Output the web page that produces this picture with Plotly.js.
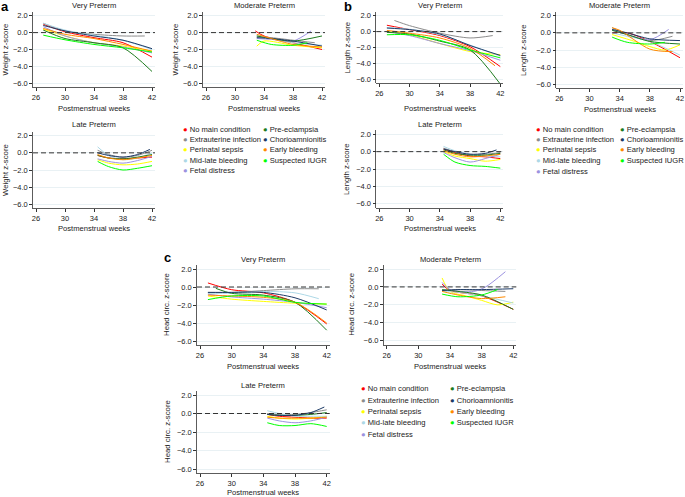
<!DOCTYPE html>
<html>
<head>
<meta charset="utf-8">
<script src="https://cdn.plot.ly/plotly-3.0.1.min.js"></script>
<style>
  html, body { margin: 0; padding: 0; background: #fff; }
  #chart { width: 685px; height: 497px; }
</style>
</head>
<body>
<div id="chart"></div>
<script>
// condition names and colours (same order in every panel)
const conditions = ['No main condition', 'Extrauterine infection', 'Perinatal sepsis',
  'Mid-late bleeding', 'Fetal distress', 'Pre-eclampsia', 'Chorioamnionitis',
  'Early bleeding', 'Suspected IUGR'];
const colors = ['#FF0000', '#8C8C8C', '#FFFF00', '#ADD8E6', '#9C92E0',
  '#1E7B1E', '#1C3A66', '#FF8A00', '#00FF00'];

const xTicks = [26, 30, 34, 38, 42];
const yTicks = [2, 0, -2, -4, -6];

// ---- a: weight ----
const weightVeryWeeks = [
  [27, 30, 34, 38, 42], [27, 30, 34, 38, 41], [27, 30, 34, 38, 42],
  [27, 30, 34, 38, 42], [27, 30, 34, 38, 42], [27, 30, 34, 38, 42],
  [27, 30, 34, 38, 42], [27, 30, 34, 38, 42], [27, 30, 34, 38, 42]];
const weightVeryZ = [
  [1.0, 0.1, -0.6, -1.2, -2.9], [1.1, 0.2, -0.2, -0.4, -0.4], [0.4, -0.4, -1.2, -1.6, -2.2],
  [1.1, 0.3, -0.3, -0.9, -2.0], [0.7, -0.4, -1.2, -1.7, -2.4], [0.3, -0.7, -1.2, -1.8, -4.6],
  [0.85, 0.2, -0.4, -0.9, -1.9], [0.5, -0.2, -0.7, -1.4, -2.2], [-0.3, -0.85, -1.4, -1.8, -2.3]];

const weightModWeeks = [
  [32.8, 34, 38, 42], [33, 35, 38, 41], [33, 34, 38, 42],
  [33, 35, 38, 42], [33, 35, 38, 40.5], [33, 35, 38, 42],
  [33, 35, 38, 42], [33, 35, 38, 42], [33, 35, 38, 40]];
const weightModZ = [
  [0.2, -0.4, -1.2, -2.0], [-0.5, -0.6, -0.9, -1.2], [-1.6, -1.0, -1.5, -1.8],
  [-0.3, -0.7, -1.2, -1.5], [-0.7, -0.8, -1.0, 0.2], [-0.4, -0.7, -1.0, -0.4],
  [-0.6, -0.7, -1.0, -1.6], [-0.2, -0.7, -1.4, -1.7], [-0.9, -1.4, -1.5, -1.2]];

const weightLateWeeks = [
  [34.5, 36, 38, 40, 42], [34.5, 36, 38, 40, 42], [34.5, 36, 38, 40, 42],
  [34.5, 36, 38, 40, 42], [34.5, 36, 38, 40, 42], [34.5, 36, 38, 40, 42],
  [34.5, 36, 38, 40, 41.7], [34.5, 36, 38, 40, 42], [34.5, 36, 38, 40, 42]];
const weightLateZ = [
  [-0.3, -0.6, -0.7, -0.6, -0.5], [0.3, -0.2, -0.5, -0.3, 0.3], [-0.8, -1.2, -1.4, -1.3, -1.0],
  [0.7, -0.3, -0.8, -0.6, 0.0], [-0.7, -1.0, -1.2, -0.9, -0.4], [-0.3, -0.6, -0.7, -0.5, -0.2],
  [0.0, -0.3, -0.5, -0.2, 0.4], [-0.2, -0.6, -0.8, -0.6, -0.3], [-1.0, -1.6, -2.0, -1.8, -1.5]];

// ---- b: length ----
const lengthVeryWeeks = [
  [27, 30, 34, 38, 42], [28, 30, 34, 38, 41], [27, 30, 34, 38, 42],
  [27, 30, 34, 38, 42], [27, 30, 34, 38, 42], [27, 30, 34, 38, 42],
  [27, 30, 34, 38, 42], [27, 30, 34, 38, 41.3], [27, 30, 34, 38, 42]];
const lengthVeryZ = [
  [0.8, 0.25, -0.5, -1.9, -4.4], [1.4, 0.75, -0.2, -0.8, -0.5], [0.0, -0.4, -1.5, -2.5, -2.9],
  [0.5, 0.3, -0.4, -1.7, -3.1], [0.0, -0.5, -1.5, -2.4, -3.6], [-0.1, -0.3, -1.2, -2.3, -6.6],
  [0.45, 0.25, -0.3, -1.75, -3.0], [0.15, -0.2, -0.8, -2.1, -4.3], [-0.4, -0.4, -1.1, -2.3, -3.3]];

const lengthModWeeks = [
  [33, 35, 38, 42], [33, 35, 38, 41], [33, 36, 38, 40, 42],
  [33, 35, 38, 42], [33, 35, 38, 40.5], [33, 35, 38, 42],
  [33, 35, 38, 42], [33, 34, 38, 41], [33, 35, 38, 40]];
const lengthModZ = [
  [0.0, 0.0, -1.0, -2.9], [0.6, -0.2, -0.9, -0.4], [-0.2, -1.0, -1.6, -2.0, -1.4],
  [0.0, -0.4, -1.0, -2.6], [0.3, -0.2, -0.8, 0.4], [0.3, -0.2, -1.0, -1.3],
  [0.4, 0.0, -0.7, -0.9], [0.6, 0.3, -1.9, -2.2], [-0.5, -1.1, -1.3, -1.1]];

const lengthLateWeeks = [
  [34.5, 36, 38, 40, 42], [34.5, 36, 38, 40, 42], [34.5, 36, 38, 40, 42],
  [34.5, 36, 38, 40, 42], [34.5, 36, 38, 40, 42], [34.5, 36, 38, 40, 42],
  [34.5, 36, 38, 40, 41.5], [34.5, 36, 38, 40, 42], [34.5, 36, 38, 40, 42]];
const lengthLateZ = [
  [0.3, -0.1, -0.5, -0.6, -0.8], [0.4, 0.0, -0.3, -0.3, -0.1], [0.0, -0.5, -0.8, -1.1, -0.9],
  [0.6, 0.1, -0.3, -0.5, -0.6], [-0.1, -0.7, -1.2, -0.8, -0.3], [0.2, -0.2, -0.4, -0.4, -0.2],
  [0.3, 0.0, -0.3, -0.2, 0.2], [0.1, -0.3, -0.6, -0.5, -0.3], [-0.3, -1.2, -1.6, -1.7, -1.9]];

// ---- c: head circumference ----
const headVeryWeeks = [
  [27, 30, 34, 38, 42], [27, 30, 34, 38, 41], [27, 30, 34, 38, 42],
  [27, 30, 34, 38, 41], [27, 30, 34, 38, 42], [28, 30, 34, 38, 42],
  [27, 30, 34, 38, 42], [27, 30, 34, 38, 42], [27, 30, 34, 38, 42]];
const headVeryZ = [
  [0.45, -0.3, -0.65, -1.7, -4.1], [-0.6, -0.6, -0.4, -0.2, -0.2], [-1.0, -1.35, -1.6, -1.8, -1.9],
  [-0.7, -0.7, -0.5, -0.65, -1.3], [-0.8, -1.1, -1.35, -1.7, -2.3], [-0.15, -0.7, -0.9, -1.7, -4.8],
  [-0.6, -0.6, -0.6, -1.2, -2.55], [-0.9, -1.0, -1.15, -1.7, -4.0], [-1.4, -1.0, -1.0, -1.7, -1.9]];

const headModWeeks = [
  [33, 34, 38, 42], [33, 35, 38, 41], [33, 34, 36, 38, 40, 42],
  [33, 35, 38, 42], [33, 34, 37, 38.5, 41], [33, 35, 38, 42],
  [33, 35, 38, 42], [33, 35, 38, 41], [33, 35, 38, 40]];
const headModZ = [
  [0.3, -0.4, -1.0, -2.5], [-0.4, -0.3, -0.4, -0.5], [1.0, -0.5, -1.0, -1.5, -2.0, -1.7],
  [-0.5, -0.6, -1.0, -1.8], [0.5, -0.3, -0.5, 0.0, 1.7], [-0.3, -0.5, -0.9, -2.5],
  [-0.4, -0.3, -0.3, -0.2], [-0.5, -0.9, -1.3, -1.1], [-0.8, -1.1, -0.9, -0.3]];

const headLateWeeks = [
  [34.5, 36, 38, 40, 42], [34.5, 36, 38, 40, 42], [34.5, 36, 38, 40, 42],
  [34.5, 36, 38, 40, 42], [34.5, 36, 38, 40, 42], [34.5, 36, 38, 40, 42],
  [34.5, 36, 38, 40, 41.7], [34.5, 36, 38, 40, 42], [34.5, 36, 38, 40, 42]];
const headLateZ = [
  [-0.1, -0.3, -0.4, -0.5, -0.5], [0.0, -0.1, -0.1, 0.1, 0.4], [-0.3, -0.5, -0.6, -0.5, -0.3],
  [0.3, 0.0, -0.3, -0.3, -0.3], [-0.5, -0.8, -1.0, -0.8, -0.4], [-0.1, -0.2, -0.2, -0.1, 0.1],
  [-0.1, -0.2, -0.2, 0.1, 0.7], [-0.4, -0.5, -0.5, -0.5, -0.4], [-1.0, -1.3, -1.3, -1.1, -1.4]];

// panel placement in pixels (tick 26 / tick 42 / tick 2.0 / tick -6.0)
const W = 685, H = 497;
const FONT = 'Liberation Sans, Arial, Helvetica, sans-serif';
const panels = [
  { weeks: weightVeryWeeks, z: weightVeryZ, title: 'Very Preterm', ylab: 'Weight z-score', x26: 36, x42: 152, y2: 15.7, y6: 83.3, ty: 6, xty: 108.7, ytx: 5 },
  { weeks: weightModWeeks, z: weightModZ, title: 'Moderate Preterm', ylab: 'Weight z-score', x26: 206, x42: 322, y2: 15.7, y6: 83.3, ty: 6, xty: 108.7, ytx: 175 },
  { weeks: weightLateWeeks, z: weightLateZ, title: 'Late Preterm', ylab: 'Weight z-score', x26: 36, x42: 152, y2: 135.7, y6: 204.3, ty: 125, xty: 228.3, ytx: 5 },
  { weeks: lengthVeryWeeks, z: lengthVeryZ, title: 'Very Preterm', ylab: 'Length z-score', x26: 379.3, x42: 500.3, y2: 15.7, y6: 79.3, ty: 6, xty: 108.7, ytx: 347 },
  { weeks: lengthModWeeks, z: lengthModZ, title: 'Moderate Preterm', ylab: 'Length z-score', x26: 559.3, x42: 680, y2: 15.7, y6: 84.3, ty: 6, xty: 109, ytx: 523 },
  { weeks: lengthLateWeeks, z: lengthLateZ, title: 'Late Preterm', ylab: 'Length z-score', x26: 379.3, x42: 500.3, y2: 134.3, y6: 203.7, ty: 125, xty: 228.3, ytx: 346 },
  { weeks: headVeryWeeks, z: headVeryZ, title: 'Very Preterm', ylab: 'Head circ. z-score', x26: 200, x42: 326.7, y2: 269, y6: 341, ty: 259.3, xty: 366.7, ytx: 166 },
  { weeks: headModWeeks, z: headModZ, title: 'Moderate Preterm', ylab: 'Head circ. z-score', x26: 386.7, x42: 513.3, y2: 269, y6: 340.7, ty: 259, xty: 366.7, ytx: 352 },
  { weeks: headLateWeeks, z: headLateZ, title: 'Late Preterm', ylab: 'Head circ. z-score', x26: 200, x42: 326.7, y2: 395, y6: 469, ty: 385, xty: 492.5, ytx: 167 }
];
const legends = [
  { cols: [184, 264], rows: [129, 139.3, 149.7, 160.3, 171] },
  { cols: [536.7, 621], rows: [129, 139.3, 149.7, 160.3, 171.7] },
  { cols: [361.7, 451], rows: [388.3, 400, 411.7, 422.7, 434] }
];

const px = v => v / W;
const py = v => 1 - v / H;

const traces = [];
const layout = {
  width: W, height: H,
  margin: { l: 0, r: 0, t: 0, b: 0 },
  paper_bgcolor: '#fff', plot_bgcolor: '#fff',
  showlegend: false,
  font: { family: FONT, size: 7.5, color: '#222' },
  annotations: [], shapes: []
};

panels.forEach((p, i) => {
  const n = i + 1;
  const sfx = n === 1 ? '' : String(n);
  const ppw = (p.x42 - p.x26) / 16;
  const ppu = (p.y6 - p.y2) / 8;
  layout['xaxis' + sfx] = {
    domain: [px(p.x26 - 3), px(p.x42 + 3)],
    range: [26 - 3 / ppw, 42 + 3 / ppw],
    anchor: 'y' + sfx,
    tickvals: xTicks, ticks: 'outside', ticklen: 3, tickcolor: '#333',
    showline: true, linecolor: '#333', linewidth: 0.8,
    showgrid: false, zeroline: false,
    tickfont: { size: 7.5, color: '#222' }, fixedrange: true
  };
  layout['yaxis' + sfx] = {
    domain: [py(p.y6 + 4), py(p.y2 - 4)],
    range: [-6 - 4 / ppu, 2 + 4 / ppu],
    anchor: 'x' + sfx,
    tickvals: yTicks, tickformat: '.1f', ticks: 'outside', ticklen: 3, tickcolor: '#333',
    showline: true, linecolor: '#333', linewidth: 0.8,
    showgrid: true, gridcolor: '#E4EEF1', gridwidth: 0.8, zeroline: false,
    tickfont: { size: 7.5, color: '#222' }, fixedrange: true
  };
  // dashed reference line at z = 0
  layout.shapes.push({
    type: 'line', xref: 'x' + sfx + ' domain', yref: 'y' + sfx,
    x0: 0, x1: 1, y0: 0, y1: 0,
    line: { color: '#333', width: 1, dash: '5px,3px' }, layer: 'above'
  });
  p.z.forEach((zs, k) => {
    traces.push({
      type: 'scatter', mode: 'lines',
      x: p.weeks[k], y: zs,
      xaxis: 'x' + sfx, yaxis: 'y' + sfx,
      name: conditions[k],
      line: { color: colors[k], width: 1, shape: 'spline', smoothing: 0.8 },
      hoverinfo: 'name+x+y'
    });
  });
  const cx = px((p.x26 + p.x42) / 2);
  layout.annotations.push(
    { text: p.title, xref: 'paper', yref: 'paper', x: cx, y: py(p.ty), showarrow: false,
      xanchor: 'center', yanchor: 'middle', font: { size: 7.6, color: '#222' } },
    { text: 'Postmenstrual weeks', xref: 'paper', yref: 'paper', x: cx, y: py(p.xty), showarrow: false,
      xanchor: 'center', yanchor: 'middle', font: { size: 7.6, color: '#222' } },
    { text: p.ylab, xref: 'paper', yref: 'paper', x: px(p.ytx), y: py((p.y2 + p.y6) / 2), showarrow: false,
      textangle: -90, xanchor: 'center', yanchor: 'middle', font: { size: 7.8, color: '#222' } }
  );
});

// legends: two columns, five + four entries
legends.forEach(lg => {
  conditions.forEach((name, k) => {
    const col = k < 5 ? 0 : 1;
    const row = k < 5 ? k : k - 5;
    layout.annotations.push({
      text: '<span style="color:' + colors[k] + '">●</span> ' + name,
      xref: 'paper', yref: 'paper', x: px(lg.cols[col] - 3), y: py(lg.rows[row]),
      xanchor: 'left', yanchor: 'middle', showarrow: false,
      font: { size: 7.6, color: '#222' }
    });
  });
});

// panel letters
[['a', 5, 7], ['b', 348, 7], ['c', 167, 257]].forEach(([t, x, y]) => {
  layout.annotations.push({
    text: '<b>' + t + '</b>', xref: 'paper', yref: 'paper', x: px(x), y: py(y),
    xanchor: 'center', yanchor: 'middle', showarrow: false,
    font: { size: 13, color: '#000' }
  });
});

Plotly.newPlot('chart', traces, layout, { displayModeBar: false, staticPlot: true });
</script>
</body>
</html>
